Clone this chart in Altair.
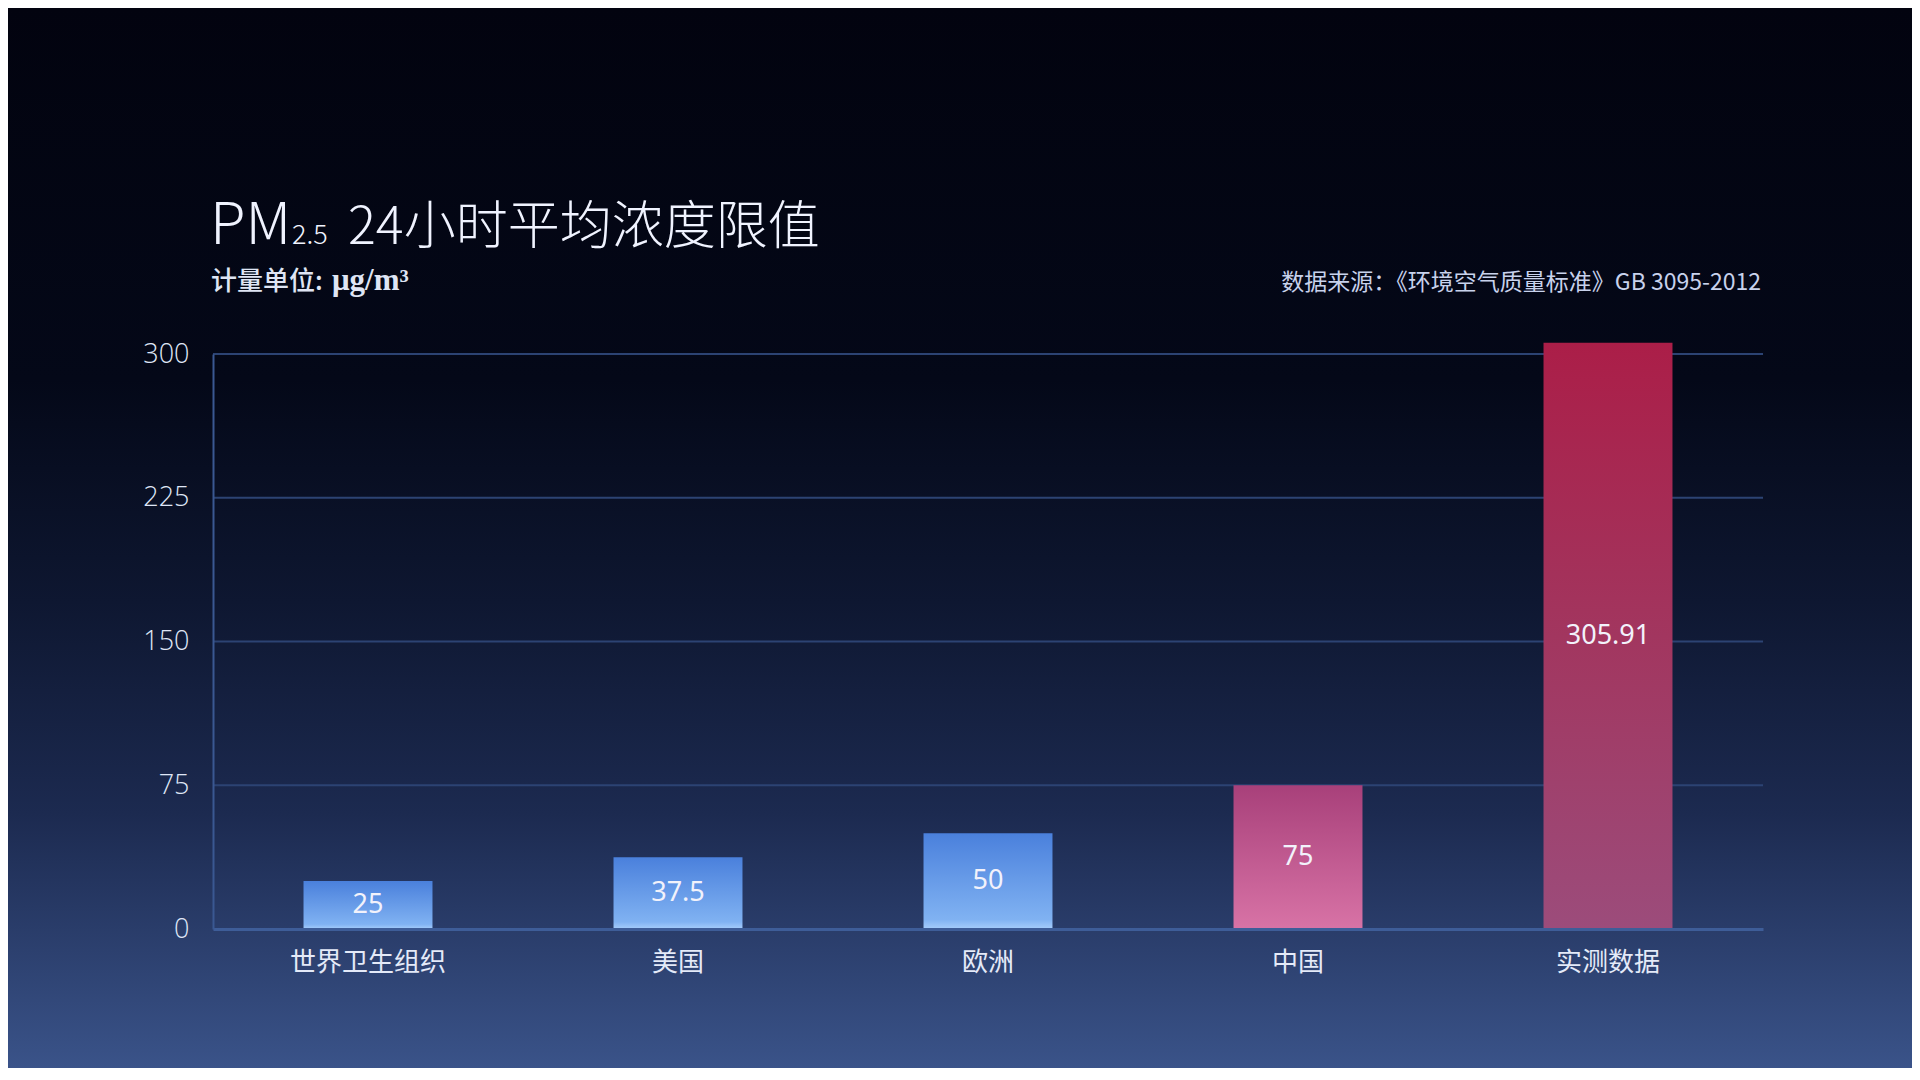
import altair as alt
import pandas as pd

# ---- data ----
categories = ["世界卫生组织", "美国", "欧洲", "中国", "实测数据"]
values = [25, 37.5, 50, 75, 305.91]
value_labels = ["25", "37.5", "50", "75", "305.91"]
y_ticks = [0, 75, 150, 225, 300]
blue_group = ["世界卫生组织", "美国", "欧洲"]
china_group = ["中国"]
measured_group = ["实测数据"]
title_main = "PM"
title_sub = "2.5"
title_rest = "24小时平均浓度限值"
unit_label = "计量单位: "
unit_text = "μg/m³"
source_text = "数据来源：《环境空气质量标准》GB 3095-2012"

df = pd.DataFrame({"category": categories, "value": values, "label": value_labels})
ticks_df = pd.DataFrame({"value": y_ticks})
one = pd.DataFrame({"k": [0]})

W, H = 1550, 575
PL, PT, PR, PB = 205, 346, 149, 139

CJK = "Noto Sans CJK SC"


def grad(stops):
    return alt.LinearGradient(
        gradient="linear", x1=0, y1=0, x2=0, y2=1,
        stops=[alt.GradientStop(offset=o, color=c) for o, c in stops],
    )


bg = alt.Chart(one).mark_rect(
    fill=grad([(0, "#02030f"), (0.35, "#040818"), (0.56, "#0e1731"),
               (0.76, "#1c2a50"), (1.0, "#3a5389")]),
    strokeWidth=0,
).encode(
    x=alt.value(-PL), x2=alt.value(W + PR),
    y=alt.value(-PT), y2=alt.value(H + PB),
)

y_scale = alt.Scale(domain=[0, 300], nice=False, zero=True)
y_axis = alt.Axis(
    values=y_ticks, ticks=False, grid=False,
    domainColor="#3a5892", domainWidth=2,
    labelFont="Open Sans", labelFontSize=27, labelFontWeight=300,
    labelColor="#dfe6f6", labelPadding=24, zindex=1,
)

x_enc = alt.X(
    "category:N", sort=categories, title=None,
    scale=alt.Scale(paddingInner=0.584, paddingOuter=0.292),
    axis=alt.Axis(
        labelAngle=0, ticks=False, grid=False, domainColor="#3e5d98",
        domainWidth=3, labelFont=CJK, labelFontSize=26, labelColor="#e4eaf8",
        labelPadding=20, labelBaseline="top", zindex=1,
    ),
)

gridlines = alt.Chart(ticks_df).mark_rule(color="#2c4373", strokeWidth=2).encode(
    y=alt.Y("value:Q", title=None, scale=y_scale, axis=y_axis)
)

base = alt.Chart(df)

axis_layer = base.mark_bar(opacity=0).encode(
    x=x_enc, y=alt.Y("value:Q", title=None, scale=y_scale, axis=y_axis))

bars_blue = base.transform_filter(
    alt.FieldOneOfPredicate(field="category", oneOf=blue_group)
).mark_bar(fill=grad([(0, "#4a80dc"), (0.9, "#80b2f2"), (1.0, "#a6cdfb")])).encode(
    x=alt.X("category:N", sort=categories), y="value:Q")

bars_china = base.transform_filter(
    alt.FieldOneOfPredicate(field="category", oneOf=china_group)
).mark_bar(fill=grad([(0, "#a8407a"), (1.0, "#d873a6")])).encode(
    x=alt.X("category:N", sort=categories), y="value:Q")

bars_meas = base.transform_filter(
    alt.FieldOneOfPredicate(field="category", oneOf=measured_group)
).mark_bar(fill=grad([(0, "#ab1e48"), (0.5, "#a2365f"), (1.0, "#9c4c7b")])).encode(
    x=alt.X("category:N", sort=categories), y="value:Q")

labels = base.transform_calculate(mid="datum.value / 2").mark_text(
    font="Noto Sans", fontSize=27, color="#f2f2fb", baseline="middle",
).encode(x=alt.X("category:N", sort=categories), y="mid:Q", text="label:N")


def ann(text, x, y, size, font=CJK, weight="normal", color="#f0f3ff", align="left"):
    return alt.Chart(one).mark_text(
        text=text, font=font, fontSize=size, fontWeight=weight, color=color,
        align=align, baseline="alphabetic",
    ).encode(x=alt.value(x), y=alt.value(y))


title_layers = [
    ann(title_main, -3, -110, 58, weight=300),
    ann(title_sub, 79, -110, 27, weight=300),
    ann(title_rest, 135, -110, 52, weight=300),
    ann(unit_label, -2, -64, 26, weight=500, color="#dfe5f4"),
    ann(unit_text, 119, -64, 31, font="Liberation Serif", weight="bold", color="#dfe5f4"),
    ann(source_text, W - 2, -64, 23, color="#c8d2ec", align="right"),
]

chart = alt.layer(
    bg, gridlines, axis_layer, bars_blue, bars_china, bars_meas, labels, *title_layers
).properties(
    width=W, height=H,
    autosize=alt.AutoSizeParams(type="none"),
    padding={"left": PL, "top": PT, "right": PR, "bottom": PB},
    background="#02030f",
).configure_view(stroke=None)

chart.save("out.html", embed_options={"renderer": "svg", "actions": False})
